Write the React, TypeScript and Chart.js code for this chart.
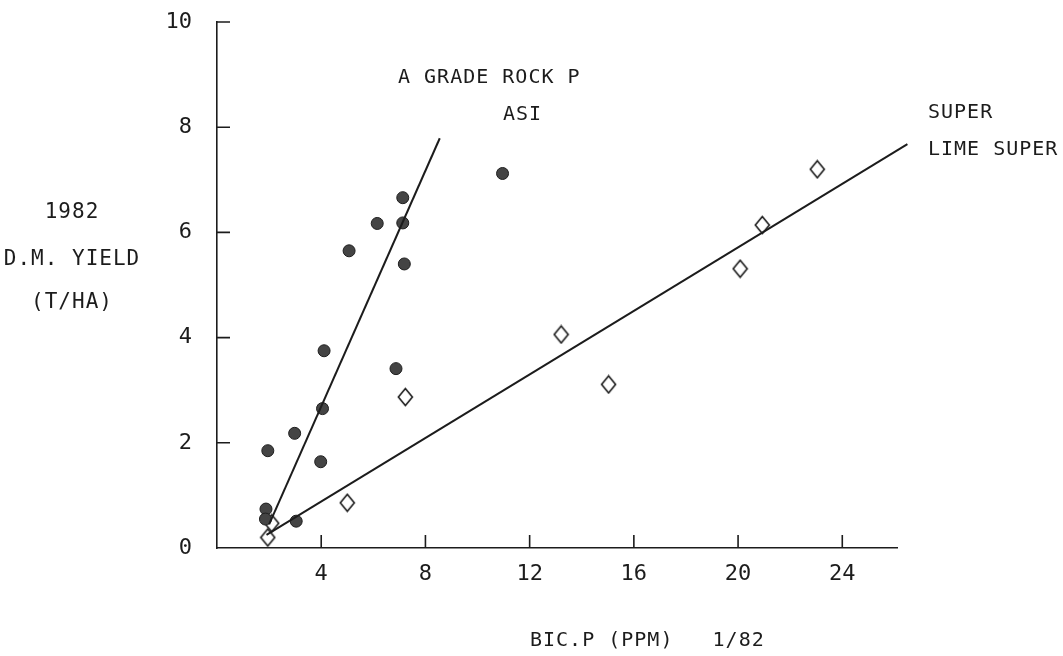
import React, { useEffect, useRef } from 'react';
import { Chart, registerables } from 'chart.js';

Chart.register(...registerables);

// A grade rock P / ASI plots (filled circles)
const rockX = [1.88, 1.86, 1.95, 2.98, 3.04, 3.98, 4.05, 4.11, 5.07, 6.15, 6.87, 7.13, 7.13, 7.19, 10.96];
const rockY = [0.74, 0.55, 1.85, 2.18, 0.51, 1.64, 2.65, 3.75, 5.65, 6.17, 3.41, 6.66, 6.18, 5.4, 7.12];

// Super / lime super plots (open diamonds)
const superX = [1.95, 2.1, 5.0, 7.23, 13.21, 15.03, 20.08, 20.93, 23.04];
const superY = [0.2, 0.47, 0.86, 2.87, 4.06, 3.11, 5.31, 6.14, 7.2];

// Fitted response lines (end points)
const rockFitX = [2.0, 8.55];
const rockFitY = [0.45, 7.79];
const superFitX = [1.9, 26.5];
const superFitY = [0.25, 7.68];

// Axis ticks and captions
const xTicks = [4, 8, 12, 16, 20, 24];
const yTicks = [0, 2, 4, 6, 8, 10];
const xTitle = 'BIC.P (PPM)   1/82';
const yTitle = ['1982', 'D.M. YIELD', '(T/HA)'];
const rockLabel = ['A GRADE ROCK P', 'ASI'];
const superLabel = ['SUPER', 'LIME SUPER'];

const INK = '#1c1c1c';
const MONO = '"DejaVu Sans Mono", "Liberation Mono", monospace';

function makeDiamond(): HTMLCanvasElement {
  const c = document.createElement('canvas');
  c.width = 17;
  c.height = 20;
  const g = c.getContext('2d')!;
  g.strokeStyle = INK;
  g.lineWidth = 1.6;
  g.beginPath();
  g.moveTo(8.5, 1.5);
  g.lineTo(15.5, 10);
  g.lineTo(8.5, 18.5);
  g.lineTo(1.5, 10);
  g.closePath();
  g.stroke();
  return c;
}

const decorations = {
  id: 'decorations',
  afterDraw(chart: any) {
    const { ctx, chartArea, scales } = chart;
    const xs = scales.x;
    const ys = scales.y;
    ctx.save();
    // inward tick marks
    ctx.strokeStyle = INK;
    ctx.lineWidth = 1.6;
    ctx.beginPath();
    yTicks.forEach((v) => {
      if (v === 0) return;
      const py = ys.getPixelForValue(v);
      ctx.moveTo(chartArea.left, py);
      ctx.lineTo(chartArea.left + 13, py);
    });
    xTicks.forEach((v) => {
      const px = xs.getPixelForValue(v);
      ctx.moveTo(px, chartArea.bottom);
      ctx.lineTo(px, chartArea.bottom - 13);
    });
    ctx.stroke();

    // captions
    ctx.fillStyle = INK;
    ctx.textBaseline = 'middle';
    ctx.textAlign = 'left';
    ctx.font = `20px ${MONO}`;
    (ctx as any).letterSpacing = '1px';
    ctx.fillText(rockLabel[0], 398, 78);
    ctx.fillText(rockLabel[1], 503, 115);
    ctx.fillText(superLabel[0], 928, 113);
    ctx.fillText(superLabel[1], 928, 150);
    ctx.fillText(xTitle, 530, 641);

    ctx.font = `21px ${MONO}`;
    ctx.textAlign = 'center';
    ctx.fillText(yTitle[0], 72, 213);
    ctx.fillText(yTitle[1], 72, 260);
    ctx.fillText(yTitle[2], 72, 303);
    ctx.restore();
  },
};

export default function App() {
  const ref = useRef<HTMLCanvasElement | null>(null);

  useEffect(() => {
    if (!ref.current) return;
    const diamond = makeDiamond();
    const toPoints = (xs: number[], ys: number[]) => xs.map((x, i) => ({ x, y: ys[i] }));

    const chart = new Chart(ref.current, {
      type: 'scatter',
      data: {
        datasets: [
          {
            label: 'A grade rock P fit',
            data: toPoints(rockFitX, rockFitY),
            showLine: true,
            borderColor: INK,
            borderWidth: 2,
            pointRadius: 0,
            clip: false,
          },
          {
            label: 'Super fit',
            data: toPoints(superFitX, superFitY),
            showLine: true,
            borderColor: INK,
            borderWidth: 2,
            pointRadius: 0,
            clip: false,
          },
          {
            label: 'A grade rock P / ASI',
            data: toPoints(rockX, rockY),
            pointStyle: 'circle',
            pointRadius: 6,
            backgroundColor: '#444',
            borderColor: '#1e1e1e',
            borderWidth: 1,
            clip: false,
          },
          {
            label: 'Super / lime super',
            data: toPoints(superX, superY),
            pointStyle: diamond as any,
            pointRadius: 8,
            clip: false,
          },
        ],
      },
      options: {
        animation: false,
        responsive: false,
        devicePixelRatio: 1,
        layout: { padding: { top: 22, right: 166, left: 0, bottom: 0 } },
        plugins: { legend: { display: false }, tooltip: { enabled: false } },
        scales: {
          x: {
            type: 'linear',
            position: 'bottom',
            min: 0,
            max: 26.1,
            afterFit: (s: any) => {
              s.height = 108;
              s.paddingLeft = 0;
              s.paddingRight = 0;
            },
            afterBuildTicks: (s: any) => {
              s.ticks = xTicks.map((v) => ({ value: v }));
            },
            grid: { display: false },
            border: { display: true, color: INK, width: 1.6 },
            ticks: {
              padding: 5,
              color: INK,
              font: { family: MONO, size: 22 },
              callback: (v: any) => String(v),
            },
          },
          y: {
            type: 'linear',
            position: 'left',
            min: 0,
            max: 10,
            afterFit: (s: any) => {
              s.width = 217;
              s.paddingTop = 0;
              s.paddingBottom = 0;
            },
            afterBuildTicks: (s: any) => {
              s.ticks = yTicks.map((v) => ({ value: v }));
            },
            grid: { display: false },
            border: { display: true, color: INK, width: 1.6 },
            ticks: {
              padding: 17,
              color: INK,
              font: { family: MONO, size: 22 },
              callback: (v: any) => String(v),
            },
          },
        },
      },
      plugins: [decorations],
    });
    return () => chart.destroy();
  }, []);

  return (
    <div style={{ position: 'absolute', left: 0, top: 0, width: 1063, height: 656, background: '#fff' }}>
      <canvas ref={ref} width={1063} height={656} style={{ display: 'block' }} />
    </div>
  );
}
